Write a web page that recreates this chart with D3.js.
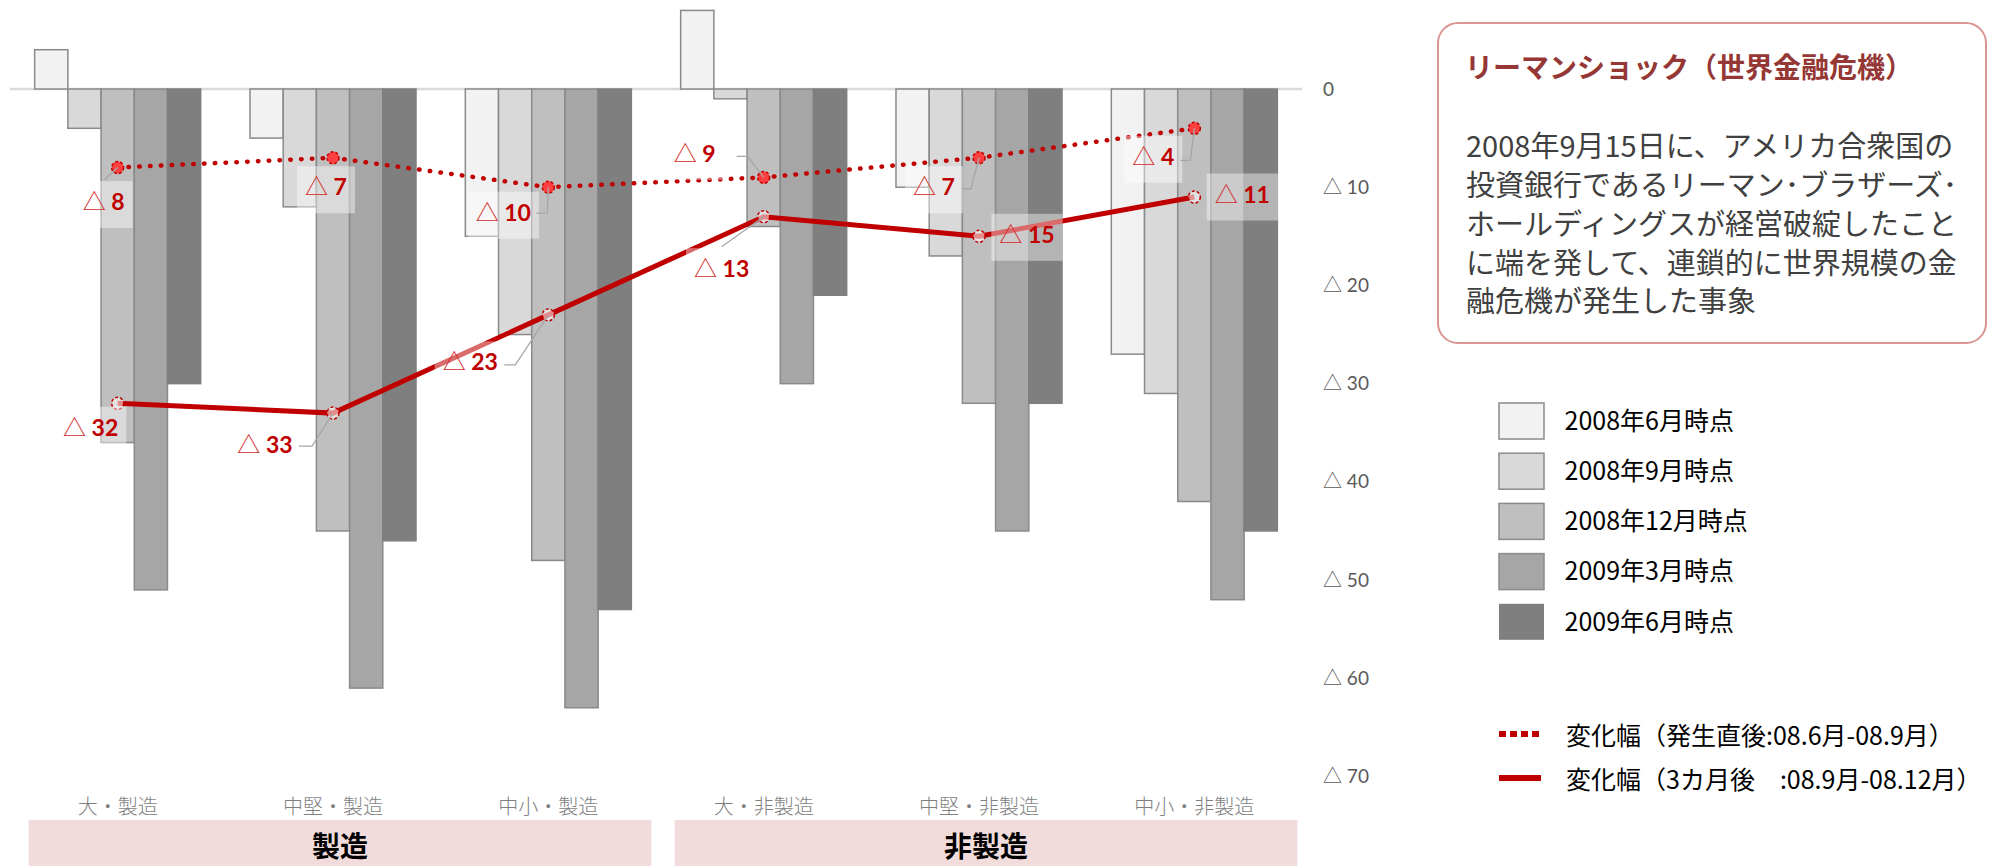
<!DOCTYPE html>
<html><head><meta charset="utf-8">
<script src="https://cdn.jsdelivr.net/npm/d3@7"></script>
<style>
html,body{margin:0;padding:0;background:#fff;overflow:hidden;}
svg{display:block;}
</style></head>
<body>
<svg id="chart" width="1989" height="866"></svg>
<script>
// ---------- data ----------
const categories = ["大・製造","中堅・製造","中小・製造","大・非製造","中堅・非製造","中小・非製造"];
const groups = ["製造","非製造"];
const groupMembers = [[0,1,2],[3,4,5]];
const seriesNames = ["2008年6月時点","2008年9月時点","2008年12月時点","2009年3月時点","2009年6月時点"];
const jun2008 = [4, -5, -15, 8, -10, -27];
const sep2008 = [-4, -12, -25, -1, -17, -31];
const dec2008 = [-36, -45, -48, -14, -32, -42];
const mar2009 = [-51, -61, -63, -30, -45, -52];
const jun2009 = [-30, -46, -53, -21, -32, -45];
const changeShort = [8, 7, 10, 9, 7, 4];      // 08.6月-08.9月
const changeLong  = [32, 33, 23, 13, 15, 11]; // 08.9月-08.12月
const yTickValues = [0, -10, -20, -30, -40, -50, -60, -70];
const lineNames = ["変化幅（発生直後:08.6月-08.9月）", "変化幅（3カ月後　:08.9月-08.12月）"];
const boxTitle = "リーマンショック（世界金融危機）";
const boxLines = ["2008年9月15日に、アメリカ合衆国の","投資銀行であるリーマン･ブラザーズ･","ホールディングスが経営破綻したこと","に端を発して、連鎖的に世界規模の金","融危機が発生した事象"];

const seriesValues = [jun2008, sep2008, dec2008, mar2009, jun2009];

// ---------- styles / layout ----------
const barColors = ["#f2f2f2","#d9d9d9","#bfbfbf","#a6a6a6","#7f7f7f"];
const red = "#c00000";
const CJK = "'Noto Sans CJK JP','Noto Sans',sans-serif";
const NUM = "Lato,'Noto Sans CJK JP',sans-serif";

// label layout (offsets from the point, px)
const shortLabelOffset = [[-14,37],[-7,32],[-45,28],[-69,-21],[-45,32],[-41,31]];
const longLabelOffset  = [[-27,27],[-68,34],[-78,50],[-42,55],[48,1],[48,0]];
// leader lines: points relative to label centre; drawn from the data point
const shortLeaders = [[[1,-25]], null, [[44,-2],[33,-2]], [[53,0],[42,0]], [[37,-1],[28,-1]], [[37,1],[27,1]]];
const longLeaders  = [null, [[47,-1],[34,-1]], [[45,0],[34,0]], [[0,-25]], null, null];

const svg = d3.select("#chart");

const x0 = d3.scaleBand().domain(categories).range([10, 1302]).paddingInner(0.229).paddingOuter(0.1145);
const x1 = d3.scaleBand().domain(seriesNames).range([0, x0.bandwidth()]);
const y = d3.scaleLinear().domain([0, -70]).range([89, 776.5]);

// zero line
svg.append("line").attr("x1", 10).attr("x2", 1302).attr("y1", y(0)).attr("y2", y(0))
  .attr("stroke", "#d9d9d9").attr("stroke-width", 2.5);

// bars
seriesNames.forEach((s, si) => {
  svg.append("g").selectAll("rect").data(seriesValues[si]).join("rect")
    .attr("x", (d, i) => x0(categories[i]) + x1(s))
    .attr("width", x1.bandwidth())
    .attr("y", d => Math.min(y(d), y(0)))
    .attr("height", d => Math.abs(y(d) - y(0)))
    .attr("fill", barColors[si])
    .attr("stroke", si === 4 ? "#7f7f7f" : "#8a8a8a")
    .attr("stroke-width", 1.5);
});

// y axis (right side, labels only)
const yAxis = d3.axisRight(y).tickValues(yTickValues).tickSize(0).tickPadding(0)
  .tickFormat(d => d === 0 ? "0" : "△ " + (-d));
const ag = svg.append("g").attr("transform", "translate(1323,0)").call(yAxis);
ag.select(".domain").remove();
ag.selectAll("text").attr("font-family", NUM).attr("font-size", 19).attr("fill", "#595959");

// category labels
svg.append("g").selectAll("text").data(categories).join("text")
  .attr("x", d => x0(d) + x0.bandwidth() / 2)
  .attr("y", 807).attr("dy", "0.35em")
  .attr("text-anchor", "middle")
  .attr("font-family", CJK).attr("font-weight", 300).attr("font-size", 20).attr("fill", "#7f7f7f")
  .text(d => d);

// group bands
groups.forEach((g, gi) => {
  const first = categories[groupMembers[gi][0]];
  const last = categories[groupMembers[gi][groupMembers[gi].length - 1]];
  const gx = x0(first) - 6;
  const gw = x0(last) + x0.bandwidth() + 20 - gx;
  svg.append("rect").attr("x", gx).attr("y", 820).attr("width", gw).attr("height", 50).attr("fill", "#f2dcdb");
  svg.append("text").attr("x", gx + gw / 2).attr("y", 847).attr("dy", "0.35em")
    .attr("text-anchor", "middle").attr("font-family", CJK).attr("font-weight", 700)
    .attr("font-size", 28).attr("fill", "#000").text(g);
});

// lines
const cx = i => x0(categories[i]) + x0.bandwidth() / 2;
const lineGen = d3.line().x((d, i) => cx(i)).y(d => y(-d));

svg.append("path").datum(changeShort).attr("d", lineGen).attr("fill", "none")
  .attr("stroke", red).attr("stroke-width", 4.5).attr("stroke-linecap", "round")
  .attr("stroke-dasharray", "0.5 10.3");
svg.append("path").datum(changeLong).attr("d", lineGen).attr("fill", "none")
  .attr("stroke", red).attr("stroke-width", 5);

// markers
svg.append("g").selectAll("circle").data(changeShort).join("circle")
  .attr("cx", (d, i) => cx(i)).attr("cy", d => y(-d)).attr("r", 6)
  .attr("fill", "#ff4040").attr("stroke", red).attr("stroke-width", 1.5).attr("stroke-dasharray", "3 2");
svg.append("g").selectAll("circle").data(changeLong).join("circle")
  .attr("cx", (d, i) => cx(i)).attr("cy", d => y(-d)).attr("r", 6)
  .attr("fill", "rgba(255,255,255,0.55)").attr("stroke", red).attr("stroke-width", 1.5).attr("stroke-dasharray", "3 2");

// data labels
function drawLabels(values, offsets, leaders) {
  values.forEach((v, i) => {
    const px = cx(i), py = y(-v);
    const lx = px + offsets[i][0], ly = py + offsets[i][1];
    const g = svg.append("g");
    const box = g.append("rect");
    const t = g.append("text").attr("x", lx).attr("y", ly).attr("dy", "0.35em")
      .attr("text-anchor", "middle");
    t.append("tspan").attr("font-family", CJK).attr("font-size", 23).attr("fill", "#d42a2a").text("△");
    t.append("tspan").attr("font-family", NUM).attr("font-size", 23).attr("font-weight", 700)
      .attr("fill", red).text(" " + v);
    const bb = t.node().getBBox();
    box.attr("x", bb.x - 8).attr("y", ly - 23.5).attr("width", bb.width + 16).attr("height", 47)
      .attr("fill", "rgba(255,255,255,0.42)");
    if (leaders[i]) {
      const pts = [[px, py]].concat(leaders[i].map(p => [lx + p[0], ly + p[1]]));
      svg.append("path").attr("d", d3.line()(pts)).attr("fill", "none")
        .attr("stroke", "#a6a6a6").attr("stroke-width", 1.3);
    }
  });
}
drawLabels(changeShort, shortLabelOffset, shortLeaders);
drawLabels(changeLong, longLabelOffset, longLeaders);

// info box
svg.append("rect").attr("x", 1438).attr("y", 23).attr("width", 548).attr("height", 320)
  .attr("rx", 20).attr("ry", 20).attr("fill", "#fff").attr("stroke", "#d99694").attr("stroke-width", 2);
svg.append("text").attr("x", 1465).attr("y", 68).attr("dy", "0.35em")
  .attr("font-family", CJK).attr("font-weight", 700).attr("font-size", 28).attr("fill", "#953735")
  .text(boxTitle);
svg.append("g").selectAll("text").data(boxLines).join("text")
  .attr("x", 1466).attr("y", (d, i) => 147 + i * 38.8).attr("dy", "0.35em")
  .attr("font-family", CJK).attr("font-size", 29).attr("fill", "#404040")
  .text(d => d);

// legend - bars
const lg = svg.append("g");
seriesNames.forEach((s, si) => {
  const ly = 403 + si * 50.2;
  lg.append("rect").attr("x", 1499).attr("y", ly).attr("width", 45).attr("height", 36)
    .attr("fill", barColors[si]).attr("stroke", si === 4 ? "none" : "#8a8a8a").attr("stroke-width", 1.5);
  lg.append("text").attr("x", 1564.5).attr("y", ly + 18).attr("dy", "0.35em")
    .attr("font-family", CJK).attr("font-size", 25).attr("fill", "#000").text(s);
});
// legend - lines
lineNames.forEach((s, li) => {
  const ly = li === 0 ? 734 : 778;
  lg.append("line").attr("x1", 1499).attr("x2", 1541).attr("y1", ly).attr("y2", ly)
    .attr("stroke", red).attr("stroke-width", 6)
    .attr("stroke-dasharray", li === 0 ? "7 4" : null);
  lg.append("text").attr("x", 1566).attr("y", ly + 2.5).attr("dy", "0.35em")
    .attr("font-family", CJK).attr("font-size", 25).attr("fill", "#000").text(s);
});
</script>
</body></html>
